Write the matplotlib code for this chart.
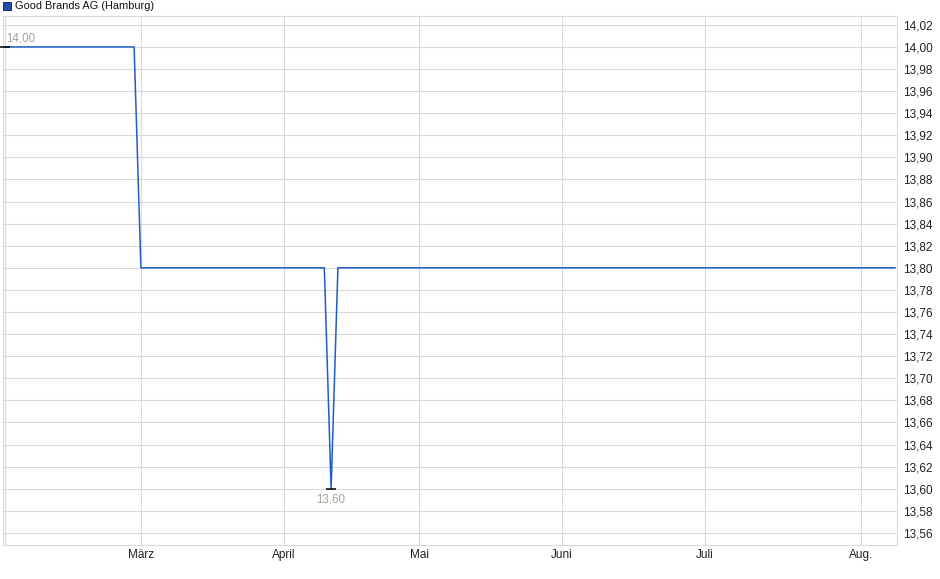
import numpy as np
import pandas as pd
import matplotlib
matplotlib.use("Agg")
import matplotlib.pyplot as plt
from matplotlib.patches import Rectangle
from matplotlib.ticker import FuncFormatter, MultipleLocator

plt.rcParams['font.family'] = ['Liberation Sans', 'DejaVu Sans']

# Handelstage Hamburg 2025 (Feiertage ohne Handel)
first_day = '2025-02-03'
last_day = '2025-08-08'
holidays = ['2025-04-18', '2025-04-21', '2025-05-01']

# Kursverlauf: Stuetzpunkte (Datum, Kurs)
price_dates = ['2025-02-03', '2025-02-28', '2025-03-03', '2025-04-09',
               '2025-04-10', '2025-04-11', '2025-08-08']
prices = [14.00, 14.00, 13.80, 13.80, 13.60, 13.80, 13.80]

# Hoch / Tief
extreme_dates = ['2025-02-03', '2025-04-10']
extreme_values = [14.00, 13.60]

month_dates = ['2025-02-03', '2025-03-03', '2025-04-01', '2025-05-02',
               '2025-06-02', '2025-07-01', '2025-08-01']
month_labels = ['', 'März', 'April', 'Mai', 'Juni', 'Juli', 'Aug.']

title = 'Good Brands AG (Hamburg)'

# Handelskalender -> Index
cal = pd.bdate_range(first_day, last_day)
cal = cal[~cal.isin(pd.to_datetime(holidays))]
pos = {d: i for i, d in enumerate(cal)}

def idx(dates):
    return [pos[pd.Timestamp(d)] for d in dates]

W, H = 940, 579
fig = plt.figure(figsize=(W / 100, H / 100), dpi=100)
ax = fig.add_axes([3 / W, (H - 545) / H, (897 - 3) / W, (545 - 16) / H])

line_color = '#1f5cc4'
grid_color = '#dadada'

ax.plot(idx(price_dates), prices, color=line_color, lw=1.1, zorder=3)
ax.plot(idx(extreme_dates), extreme_values, ls='none', marker='_', ms=6.5,
        mew=1.1, color='black', zorder=4, clip_on=False)

lab_color = '#a8a298'
ax.annotate(f'{extreme_values[0]:.2f}'.replace('.', ','),
            (idx(extreme_dates)[0], extreme_values[0]), xytext=(0.5, 1.5),
            textcoords='offset points', ha='left', va='bottom',
            fontsize=8.3, color=lab_color)
ax.annotate(f'{extreme_values[1]:.2f}'.replace('.', ','),
            (idx(extreme_dates)[1], extreme_values[1]), xytext=(0, -3.5),
            textcoords='offset points', ha='center', va='top',
            fontsize=8.3, color=lab_color)

ax.set_xlim(-0.3, 131.3)
ax.set_ylim(13.549, 14.028)

ax.yaxis.tick_right()
ax.yaxis.set_major_locator(MultipleLocator(0.02))
ax.yaxis.set_major_formatter(FuncFormatter(lambda v, p: f'{v:.2f}'.replace('.', ',')))
ax.set_xticks(idx(month_dates))
ax.set_xticklabels(month_labels)
ax.tick_params(axis='both', length=0, labelsize=8.5, colors='#222222')
ax.tick_params(axis='y', pad=4)
ax.tick_params(axis='x', pad=3)

ax.grid(True, color=grid_color, lw=0.8)
ax.set_axisbelow(True)
for s in ax.spines.values():
    s.set_color(grid_color)
    s.set_linewidth(0.8)

# Legende oben links
fig.patches.append(Rectangle((3 / W, (H - 10) / H), 8 / W, 8 / H,
                             transform=fig.transFigure, facecolor='#1f4fa8',
                             edgecolor='#10306a', lw=0.7))
fig.text(15 / W, (H - 6) / H, title, fontsize=7.9, va='center', ha='left',
         color='#111111')

fig.savefig('out.png', dpi=100)
